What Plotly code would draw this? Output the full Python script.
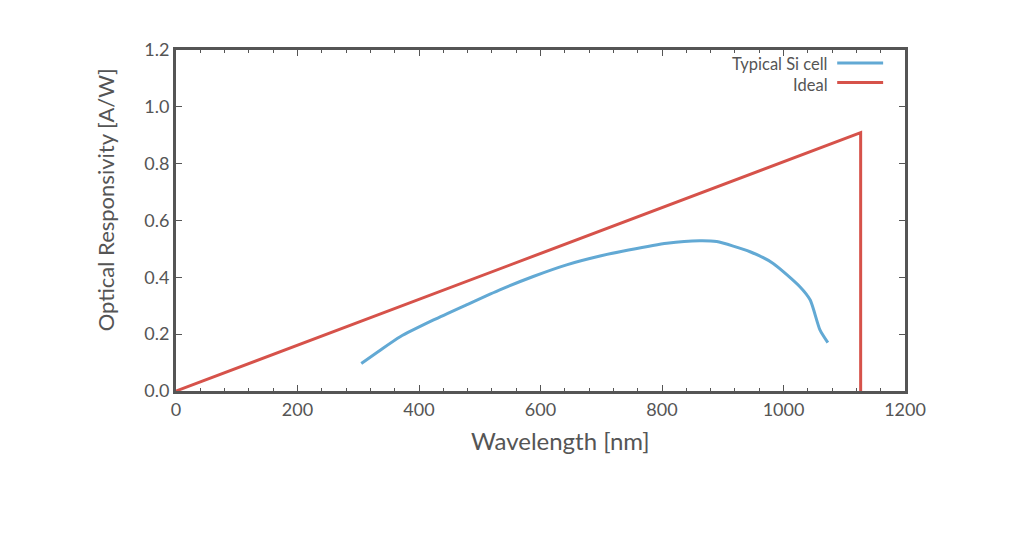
import plotly.graph_objects as go

# Typical Si cell
si_wavelength = [305, 335, 369, 424, 478, 533, 588, 643, 698, 745, 808, 862, 890, 945, 983, 1027, 1044, 1060, 1073]
si_response = [0.097, 0.142, 0.191, 0.250, 0.303, 0.356, 0.403, 0.444, 0.475, 0.496, 0.520, 0.529, 0.526, 0.490, 0.449, 0.367, 0.320, 0.215, 0.170]

# Ideal responsivity
ideal_wavelength = [0, 1127, 1127]
ideal_response = [0.0, 0.909, 0.0]

series_names = ["Typical Si cell", "Ideal"]
x_ticks = [0, 200, 400, 600, 800, 1000, 1200]
y_ticks = [0.0, 0.2, 0.4, 0.6, 0.8, 1.0, 1.2]

BLUE = "#62a9d4"
RED = "#d6524a"
GREY = "#555555"
FONT = "Lato"

fig = go.Figure()
fig.add_trace(go.Scatter(x=si_wavelength, y=si_response, mode="lines", name=series_names[0],
                         line=dict(color=BLUE, width=3, shape="spline", smoothing=0.6), showlegend=False))
fig.add_trace(go.Scatter(x=ideal_wavelength, y=ideal_response, mode="lines", name=series_names[1],
                         line=dict(color=RED, width=3), showlegend=False))

axis_common = dict(showgrid=False, zeroline=False, showline=True, linecolor=GREY, linewidth=3,
                   mirror="ticks", ticks="inside", tickcolor=GREY, ticklen=6, tickwidth=1,
                   tickfont=dict(family=FONT, size=18, color=GREY))

fig.update_xaxes(range=[0, 1200], tickvals=x_ticks, ticktext=[str(v) for v in x_ticks],
                 minor=dict(ticks="inside", ticklen=3, tickcolor=GREY, dtick=40, tick0=0),
                 **axis_common)
fig.update_yaxes(range=[0, 1.2], tickvals=y_ticks, ticktext=[f"{v:.1f}" for v in y_ticks],
                 **axis_common)

# axis titles (placed as in the reference, slightly off-centre)
fig.add_annotation(x=0.527, y=-0.145, xref="paper", yref="paper", text="Wavelength [nm]", showarrow=False,
                   xanchor="center", yanchor="middle", font=dict(family=FONT, size=24, color=GREY))
fig.add_annotation(x=-0.097, y=0.56, xref="paper", yref="paper", text="Optical Responsivity [A/W]",
                   showarrow=False, textangle=-90, xanchor="center", yanchor="middle",
                   font=dict(family=FONT, size=22, color=GREY))

# legend (line samples to the right of right-aligned text, gnuplot style)
fig.add_annotation(x=0.897, y=0.928, xref="paper", yref="paper",
                   text="<br>".join(series_names), showarrow=False, align="right",
                   xanchor="right", yanchor="middle", font=dict(family=FONT, size=16.5, color=GREY))
for color, yp in [(BLUE, 0.962), (RED, 0.905)]:
    fig.add_shape(type="line", xref="paper", yref="paper", x0=0.907, x1=0.970, y0=yp, y1=yp,
                  line=dict(color=color, width=3))

fig.update_layout(width=1024, height=536, margin=dict(l=176, r=119, t=50, b=145),
                  paper_bgcolor="white", plot_bgcolor="white", font=dict(family=FONT, color=GREY))

fig.write_html("out.html")
